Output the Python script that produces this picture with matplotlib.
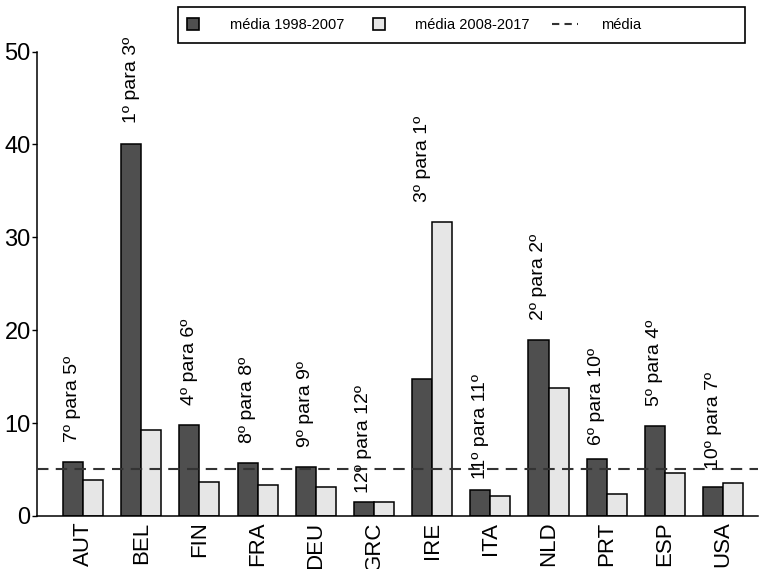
import numpy as np
import matplotlib.pyplot as plt
from matplotlib.lines import Line2D
from matplotlib.patches import Rectangle

plt.rcParams['font.family'] = ['Liberation Sans', 'DejaVu Sans']

# Data
paises = ['AUT', 'BEL', 'FIN', 'FRA', 'DEU', 'GRC', 'IRE', 'ITA', 'NLD', 'PRT', 'ESP', 'USA']
media_1998_2007 = [5.8, 40.1, 9.8, 5.7, 5.3, 1.5, 14.8, 2.8, 18.9, 6.1, 9.7, 3.1]
media_2008_2017 = [3.9, 9.3, 3.7, 3.3, 3.1, 1.5, 31.6, 2.2, 13.8, 2.4, 4.6, 3.5]
rankings = ['7º para 5º', '1º para 3º', '4º para 6º', '8º para 8º', '9º para 9º', '12º para 12º',
            '3º para 1º', '11º para 11º', '2º para 2º', '6º para 10º', '5º para 4º', '10º para 7º']
media = 5.05

cor_escura = '#4f4f4f'
cor_clara = '#e6e6e6'

fig = plt.figure(figsize=(7.61, 5.69), dpi=100)
W, H = 761, 569
ax = fig.add_axes([37 / W, (H - 516) / H, (758 - 37) / W, (516 - 33) / H])

x = np.arange(len(paises))
w = 0.344
ax.bar(x - w / 2, media_1998_2007, width=w, color=cor_escura, edgecolor='black', linewidth=1.1, zorder=2)
ax.bar(x + w / 2, media_2008_2017, width=w, color=cor_clara, edgecolor='black', linewidth=1.1, zorder=2)
ax.axhline(media, color='#333333', linewidth=1.5, linestyle=(0, (5.5, 3.5)), zorder=3)

# ranking labels above each pair
topo = np.maximum(media_1998_2007, media_2008_2017)
for xi, t, lab in zip(x, topo, rankings):
    ax.text(xi - w / 2, t + 6.8, lab, rotation=90, ha='center', va='center', fontsize=14)

ax.set_xlim(-0.79, 11.6)
ax.set_ylim(0, 52)
ax.set_yticks([0, 10, 20, 30, 40, 50])
ax.set_xticks(x)
ax.set_xticklabels(paises, rotation=90, fontsize=16)
ax.tick_params(axis='x', length=0, pad=4)
ax.tick_params(axis='y', length=3.5, width=1, pad=1, labelsize=17)

for s in ['top', 'right']:
    ax.spines[s].set_visible(False)
ax.spines['left'].set_bounds(0, 50)
ax.spines['left'].set_linewidth(1.1)
ax.spines['bottom'].set_linewidth(1.1)

# legend
handles = [
    Line2D([], [], marker='s', markersize=8, markerfacecolor=cor_escura, markeredgecolor='black',
           markeredgewidth=1.2, linestyle='none'),
    Line2D([], [], marker='s', markersize=8, markerfacecolor=cor_clara, markeredgecolor='black',
           markeredgewidth=1.2, linestyle='none'),
    Line2D([], [], color='#333333', linewidth=1.5, linestyle=(0, (3.5, 2.5))),
]
fig.legend(handles, ['média 1998-2007', 'média 2008-2017', 'média'], ncol=3, frameon=False,
           loc='center left', bbox_to_anchor=(180 / W, 1 - 25 / H), fontsize=10.5,
           handlelength=1.8, handletextpad=1.6, columnspacing=1.5, borderaxespad=0, borderpad=0)
fig.patches.append(Rectangle((178 / W, 1 - 43 / H), (745 - 178) / W, 36 / H, transform=fig.transFigure,
                             fill=False, edgecolor='black', linewidth=1.2))

fig.savefig('out.png', dpi=100)
